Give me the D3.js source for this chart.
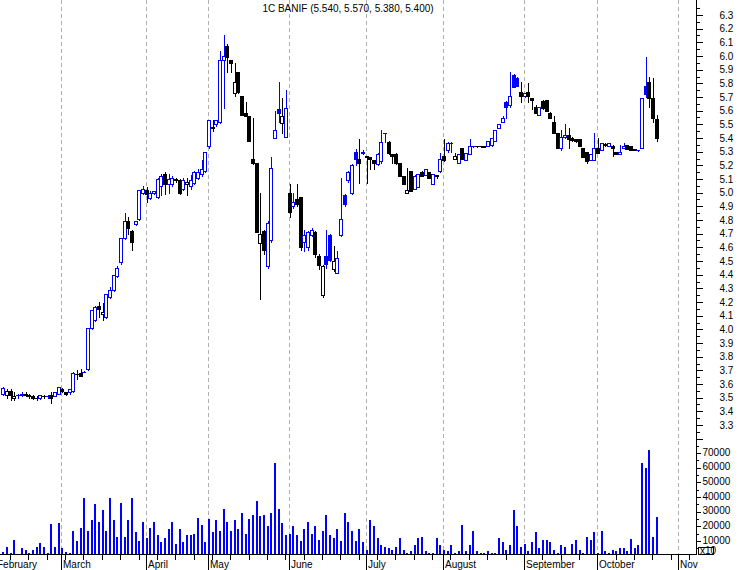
<!DOCTYPE html>
<html><head><meta charset="utf-8">
<script src="https://cdn.jsdelivr.net/npm/d3@7"></script>
<style>body{margin:0;background:#fff}svg{display:block}text{font-family:"Liberation Sans",Arial,sans-serif;font-size:10px;fill:#000}</style>
</head><body><svg id="c" width="738" height="570"></svg>
<script>
const titleText = "1C BANIF (5.540, 5.570, 5.380, 5.400)";
const monthNames = ["February","March","April","May","June","July","August","September","October","Nov"];
const monthStart = [-2,16,39,56,78,99,120,142,162,184];
const priceLabels = ["3.3","3.4","3.5","3.6","3.7","3.8","3.9","4.0","4.1","4.2","4.3","4.4","4.5","4.6","4.7","4.8","4.9","5.0","5.1","5.2","5.3","5.4","5.5","5.6","5.7","5.8","5.9","6.0","6.1","6.2","6.3"];
const volumeLabels = [10000,20000,30000,40000,50000,60000,70000];

const openV = [
3.53,3.52,3.55,3.50,3.52,3.52,3.53,3.52,3.51,3.50,3.50,3.51,3.51,3.52,3.51,3.53,
3.56,3.54,3.54,3.55,3.67,3.68,3.69,3.71,4.01,4.07,4.17,4.11,4.09,4.24,4.29,4.39,4.49,4.67,4.79,4.72,4.77,4.81,
5.00,5.02,4.96,5.00,4.97,5.05,5.14,5.06,5.06,5.10,5.09,5.03,5.06,5.05,5.07,5.11,5.14,5.16,
5.34,5.48,5.50,5.52,5.97,6.07,5.97,5.73,5.88,5.71,5.58,5.56,5.25,5.22,4.63,4.72,4.46,4.65,5.40,5.61,5.51,5.41,
5.00,4.90,4.95,4.97,4.64,4.60,4.69,4.71,4.54,4.25,4.54,4.69,4.44,4.41,4.69,4.98,5.09,5.00,5.30,5.25,5.29,
5.27,5.26,5.24,5.21,5.23,5.44,5.37,5.28,5.28,5.22,5.12,5.00,5.16,5.03,5.04,5.15,5.13,5.15,5.06,5.13,5.16,
5.27,5.31,5.36,5.25,5.22,5.33,5.24,5.28,5.34,5.34,5.339,5.338,5.34,5.35,5.38,5.47,5.52,5.66,5.64,5.86,5.84,5.74,
5.71,5.74,5.69,5.63,5.57,5.67,5.68,5.58,5.52,5.44,5.33,5.41,5.42,5.40,5.39,5.39,5.33,5.30,5.24,5.24,
5.33,5.31,5.355,5.34,5.34,5.30,5.285,5.33,5.35,5.34,5.32,5.31,5.33,5.78,5.81,5.69,5.54];
const highV = [
3.58,3.56,3.56,3.54,3.53,3.54,3.54,3.53,3.52,3.51,3.52,3.52,3.52,3.54,3.54,3.58,
3.57,3.54,3.56,3.69,3.70,3.71,3.695,4.01,4.14,4.17,4.20,4.19,4.26,4.31,4.40,4.46,4.67,4.85,4.82,4.73,4.79,5.02,
5.05,5.04,5.01,5.01,5.11,5.14,5.15,5.14,5.12,5.11,5.10,5.11,5.11,5.13,5.16,5.17,5.24,5.30,
5.53,5.53,5.53,6.04,6.15,6.09,5.97,5.95,5.88,5.71,5.66,5.56,5.55,5.22,5.00,4.73,4.79,5.26,5.60,5.81,5.69,5.75,
5.06,5.00,5.06,4.97,4.73,4.72,4.74,4.72,4.55,4.47,4.73,4.70,4.61,4.57,5.11,4.99,5.16,5.21,5.32,5.39,5.31,
5.27,5.26,5.24,5.29,5.46,5.44,5.38,5.28,5.29,5.22,5.12,5.18,5.16,5.13,5.14,5.16,5.17,5.15,5.14,5.13,5.29,
5.39,5.37,5.37,5.29,5.28,5.33,5.29,5.39,5.345,5.345,5.34,5.34,5.38,5.40,5.46,5.50,5.56,5.67,5.88,5.87,5.85,5.81,
5.73,5.80,5.69,5.64,5.63,5.68,5.68,5.59,5.56,5.44,5.46,5.50,5.47,5.41,5.39,5.39,5.33,5.30,5.28,5.44,
5.40,5.36,5.36,5.36,5.35,5.30,5.35,5.36,5.35,5.34,5.32,5.315,5.69,5.99,5.85,5.84,5.57];
const lowV = [
3.52,3.50,3.48,3.48,3.50,3.51,3.51,3.50,3.49,3.48,3.49,3.50,3.50,3.46,3.51,3.53,
3.54,3.52,3.53,3.54,3.64,3.66,3.69,3.70,4.00,4.06,4.09,4.07,4.08,4.23,4.28,4.38,4.48,4.66,4.70,4.58,4.76,4.80,
4.99,4.93,4.95,4.99,4.96,4.98,4.99,5.00,5.05,5.08,4.99,5.02,4.98,5.03,5.06,5.10,5.12,5.15,
5.33,5.45,5.49,5.51,5.62,5.88,5.88,5.71,5.73,5.57,5.56,5.38,5.21,4.71,4.22,4.55,4.45,4.64,5.40,5.52,5.44,5.41,
4.82,4.89,4.90,4.58,4.57,4.58,4.68,4.53,4.44,4.24,4.45,4.50,4.43,4.41,4.68,4.90,5.08,4.99,5.20,5.07,5.28,
5.07,5.17,5.17,5.20,5.22,5.37,5.28,5.22,5.21,5.12,5.06,5.00,5.01,5.03,5.04,5.12,5.13,5.11,5.06,5.11,5.15,
5.23,5.30,5.30,5.25,5.22,5.25,5.24,5.28,5.335,5.335,5.335,5.335,5.34,5.34,5.38,5.47,5.52,5.55,5.63,5.77,5.78,5.66,
5.70,5.66,5.61,5.58,5.57,5.61,5.60,5.55,5.44,5.33,5.31,5.40,5.33,5.38,5.37,5.34,5.26,5.22,5.24,5.24,
5.29,5.31,5.345,5.34,5.27,5.28,5.285,5.33,5.32,5.31,5.31,5.305,5.33,5.70,5.63,5.52,5.38];
const closeV = [
3.57,3.55,3.52,3.51,3.52,3.53,3.52,3.51,3.50,3.495,3.52,3.515,3.515,3.50,3.54,3.58,
3.55,3.53,3.56,3.68,3.67,3.66,3.69,4.01,4.14,4.16,4.15,4.13,4.26,4.29,4.40,4.45,4.67,4.79,4.74,4.64,4.79,5.02,
5.03,4.99,5.00,5.01,5.10,5.12,5.06,5.10,5.11,5.09,5.00,5.09,5.08,5.09,5.15,5.15,5.17,5.30,
5.53,5.47,5.53,5.97,6.00,5.99,5.95,5.81,5.74,5.57,5.56,5.38,5.22,4.71,4.70,4.58,4.78,5.18,5.46,5.58,5.56,5.62,
4.86,4.93,4.92,4.60,4.69,4.71,4.73,4.55,4.47,4.46,4.48,4.51,4.50,4.52,4.81,4.92,5.15,5.20,5.25,5.22,5.30,
5.26,5.25,5.22,5.28,5.37,5.44,5.29,5.27,5.22,5.12,5.06,5.02,5.01,5.12,5.14,5.12,5.17,5.11,5.14,5.12,5.25,
5.24,5.36,5.36,5.27,5.28,5.25,5.29,5.34,5.34,5.339,5.338,5.337,5.38,5.40,5.46,5.50,5.55,5.63,5.71,5.77,5.78,5.71,
5.73,5.71,5.68,5.58,5.63,5.62,5.60,5.55,5.44,5.33,5.41,5.42,5.39,5.385,5.38,5.34,5.26,5.23,5.28,5.33,
5.29,5.36,5.35,5.36,5.33,5.28,5.30,5.34,5.32,5.315,5.31,5.31,5.69,5.72,5.69,5.55,5.40];
const volumeV = [
2700,5700,1500,11000,1000,5000,3900,2000,3900,5700,8500,5700,2000,21500,6000,22000,
5000,2700,2000,17000,10000,19000,39000,17000,24000,35000,23000,31000,17000,39000,24000,13000,36000,13000,24000,39000,16000,10000,
23000,12000,19000,23000,14000,9000,12000,18000,23000,8000,18000,9000,14000,14000,15000,26000,21000,9000,
25000,16000,24000,17000,32000,23000,17000,24000,18000,29000,15000,25000,28000,37000,27000,28000,20000,29000,63000,32000,22000,14000,
15000,20000,14000,10000,18000,23000,15000,20000,11000,17000,28000,14000,12000,18000,10000,29000,23000,17000,10000,18000,9000,
4000,24000,20000,12000,7000,6000,5000,4000,6000,12000,4000,2000,3000,7000,12000,13000,3000,2000,2000,12000,7000,
4000,3000,7000,2000,3000,21000,3000,7000,17000,3000,2000,2000,3000,2000,2000,12000,9000,4000,7000,31000,20000,6000,
8000,3000,9000,16000,5000,11000,11000,9000,4000,2000,7000,6000,1000,8000,11000,4000,2000,13000,11000,16000,
2000,16500,3000,1500,4000,3000,5000,5500,3500,11500,5000,7500,63500,60000,72000,12500,26500];

const svg = d3.select("#c");
const W = 738, H = 570;
const axisX = 696;
const baseY = 554;
const x = d3.scaleLinear().domain([-0.95, 188.7]).range([0, axisX]);
const y = d3.scaleLinear().domain([3.3, 6.3]).range([425, 15]);
const yv = d3.scaleLinear().domain([0, 70000]).range([555.7, 453]);
const BLUE = "#0000ff", BLACK = "#000000", GRID = "#b0b0b0";

const data = closeV.map((c, i) => ({
  i, o: openV[i], h: highV[i], l: lowV[i], c, v: volumeV[i],
  up: i === 0 ? c >= openV[i] : c >= closeV[i - 1]
}));

const gx = ms => Math.round(x(ms - 0.2)) + 0.5;
svg.append("g").selectAll("line").data(monthStart).join("line")
  .attr("x1", gx).attr("x2", gx).attr("y1", 0).attr("y2", baseY)
  .attr("stroke", GRID).attr("stroke-width", 1).attr("stroke-dasharray", "4,3");

svg.append("text").attr("x", 348).attr("y", 12).attr("text-anchor", "middle").text(titleText);

svg.append("g").selectAll("rect").data(data).join("rect")
  .attr("x", d => Math.round(x(d.i)) - 1)
  .attr("width", 2)
  .attr("y", d => Math.round(yv(d.v)))
  .attr("height", d => Math.max(0, baseY - Math.round(yv(d.v))))
  .attr("fill", BLUE).attr("shape-rendering", "crispEdges");

const cg = svg.append("g").attr("shape-rendering", "crispEdges");
const candle = cg.selectAll("g").data(data).join("g");
candle.append("rect")
  .attr("x", d => Math.round(x(d.i)))
  .attr("width", 1)
  .attr("y", d => Math.round(y(Math.max(d.h, d.o, d.c))))
  .attr("height", d => Math.round(y(Math.min(d.l, d.o, d.c))) - Math.round(y(Math.max(d.h, d.o, d.c))) + 1)
  .attr("fill", d => d.up ? BLUE : BLACK);
candle.each(function(d) {
  const g = d3.select(this);
  const px = Math.round(x(d.i));
  const top = Math.round(y(Math.max(d.o, d.c)));
  const bot = Math.round(y(Math.min(d.o, d.c)));
  const col = d.up ? BLUE : BLACK;
  if (bot - top < 1) {
    g.append("rect").attr("x", px - 2).attr("width", 4).attr("y", top).attr("height", 1).attr("fill", col);
  } else if (d.c > d.o) {
    g.append("rect").attr("x", px - 1.5).attr("width", 3).attr("y", top + 0.5).attr("height", bot - top)
      .attr("fill", "#fff").attr("stroke", col).attr("stroke-width", 1);
  } else {
    g.append("rect").attr("x", px - 2).attr("width", 4).attr("y", top).attr("height", bot - top + 1).attr("fill", col);
  }
});

svg.append("line").attr("x1", 0).attr("x2", axisX + 0.5).attr("y1", baseY + 0.5).attr("y2", baseY + 0.5)
  .attr("stroke", BLACK).attr("shape-rendering", "crispEdges");
const weekIdx = d3.range(2, 190, 5);
svg.append("g").selectAll("line").data(weekIdx).join("line")
  .attr("x1", gx).attr("x2", gx).attr("y1", baseY).attr("y2", baseY + 6)
  .attr("stroke", BLACK).attr("shape-rendering", "crispEdges");
svg.append("g").selectAll("line").data(monthStart).join("line")
  .attr("x1", gx).attr("x2", gx).attr("y1", baseY).attr("y2", H)
  .attr("stroke", BLACK).attr("shape-rendering", "crispEdges");
svg.append("g").selectAll("text").data(monthStart).join("text")
  .attr("x", d => gx(d) + 1.5).attr("y", 568)
  .text((d, k) => monthNames[k]);

const pAxis = svg.append("g").attr("transform", `translate(${axisX + 0.5},0)`);
pAxis.call(d3.axisRight(y).tickValues(priceLabels.map(Number)).tickSize(6).tickPadding(17).tickSizeOuter(0).tickFormat((d, k) => priceLabels[k]));
pAxis.select(".domain").remove();
const minorP = d3.range(3.25, 6.4, 0.1);
pAxis.append("g").selectAll("line").data(minorP).join("line")
  .attr("x1", 0).attr("x2", 3).attr("y1", d => Math.round(y(d)) + 0.5).attr("y2", d => Math.round(y(d)) + 0.5)
  .attr("stroke", BLACK);
pAxis.append("line").attr("x1", 0).attr("x2", 6).attr("y1", Math.round(y(3.2)) + 0.5).attr("y2", Math.round(y(3.2)) + 0.5).attr("stroke", BLACK);
pAxis.selectAll(".tick text").attr("font-size", 10).attr("font-family", "Liberation Sans, Arial, sans-serif").attr("fill", BLACK);
pAxis.selectAll(".tick line").attr("stroke", BLACK);
pAxis.attr("shape-rendering", "crispEdges");

const vAxis = svg.append("g").attr("transform", `translate(${axisX + 0.5},0)`).attr("shape-rendering", "crispEdges");
vAxis.call(d3.axisRight(yv).tickValues(volumeLabels).tickSize(4).tickPadding(2).tickSizeOuter(0).tickFormat(d3.format("d")));
vAxis.select(".domain").remove();
vAxis.append("g").selectAll("line").data(d3.range(5000, 80000, 10000)).join("line")
  .attr("x1", 0).attr("x2", 2).attr("y1", d => Math.round(yv(d)) + 0.5).attr("y2", d => Math.round(yv(d)) + 0.5)
  .attr("stroke", BLACK);
vAxis.selectAll(".tick text").attr("font-size", 10).attr("font-family", "Liberation Sans, Arial, sans-serif").attr("fill", BLACK)
  .attr("dy", "0.2em");

svg.append("line").attr("x1", axisX + 0.5).attr("x2", axisX + 0.5).attr("y1", 0).attr("y2", baseY + 1)
  .attr("stroke", BLACK).attr("shape-rendering", "crispEdges");

svg.append("rect").attr("x", 698.5).attr("y", 547.5).attr("width", 15).attr("height", 7)
  .attr("fill", "#fff").attr("stroke", BLACK).attr("shape-rendering", "crispEdges");
svg.append("text").attr("x", 700).attr("y", 553.8).attr("font-size", 7).text("x10");
</script></body></html>
